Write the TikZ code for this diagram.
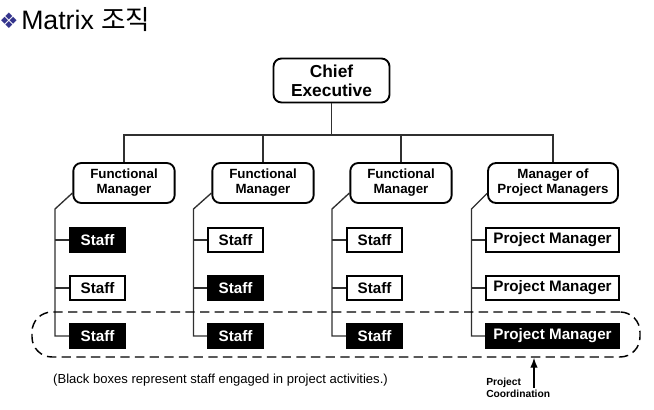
\documentclass[tikz,border=0pt]{standalone}
\usepackage{fontspec}
\setmainfont{Liberation Sans}
\newfontfamily\krfont{Noto Sans CJK KR}
\newfontfamily\symfont{DejaVu Sans}
\usetikzlibrary{arrows.meta,positioning}
\definecolor{bulletblue}{HTML}{34348C}
\definecolor{wiregray}{HTML}{303030}

\begin{document}
\begin{tikzpicture}[
  x=0.75pt, y=-0.75pt,
  >=Latex,
  chief/.style={rectangle, draw, line width=1.4pt, rounded corners=6pt, minimum width=87pt, minimum height=33pt, inner sep=0pt, align=center, font=\fontsize{13}{14.5}\selectfont\bfseries},
  fmgr/.style={chief, minimum width=76pt, minimum height=30pt, font=\fontsize{10}{11.3}\selectfont\bfseries},
  staffbox/.style={rectangle, draw, line width=1.4pt, minimum width=41pt, minimum height=18.5pt, inner sep=0pt, font=\fontsize{11.4}{12}\selectfont\bfseries},
  busy/.style={staffbox, fill=black, text=white},
  pmbox/.style={minimum width=100pt},
  wire/.style={draw=wiregray, line width=1pt},
  band/.style={draw, dashed, dash pattern=on 7pt off 4pt, line width=1.1pt, rounded corners=15pt, minimum width=456pt, minimum height=33.75pt}
]
  \useasboundingbox (0,0) rectangle (654,410);

  % title
  \node[text=bulletblue, font=\symfont\fontsize{16}{16}\selectfont, inner sep=0pt] (bullet) at (9,21) {❖};
  \node[anchor=west, inner sep=0pt, font=\fontsize{20}{20}\selectfont] (title) at (21,20) {Matrix {\krfont 조직}};

  % top of the chart
  \node[chief] (ce) at (331.5,80.5) {Chief\\Executive};
  \node[fmgr] (m1) at (124,183) {Functional\\Manager};
  \node[fmgr] (m2) at (263,183) {Functional\\Manager};
  \node[fmgr] (m3) at (401,183) {Functional\\Manager};
  \node[fmgr, minimum width=97.5pt] (m4) at (553,183) {Manager of\\Project Managers};

  \coordinate (bus) at (331.5,135);
  \draw[wire] (ce) -- (bus);
  \draw[wire] (m1.north) |- (bus) -| (m4.north);
  \draw[wire] (m2.north) -- (m2.north |- bus);
  \draw[wire] (m3.north) -- (m3.north |- bus);

  % staff columns
  \node[busy] (s11) at (97.5,240) {Staff};
  \node[staffbox, below=16.1pt of s11] (s12) {Staff};
  \node[busy, below=16.1pt of s12] (s13) {Staff};

  \node[staffbox] (s21) at (235.5,240) {Staff};
  \node[busy, below=16.1pt of s21] (s22) {Staff};
  \node[busy, below=16.1pt of s22] (s23) {Staff};

  \node[staffbox] (s31) at (374.5,240) {Staff};
  \node[staffbox, below=16.1pt of s31] (s32) {Staff};
  \node[busy, below=16.1pt of s32] (s33) {Staff};

  \node[staffbox, pmbox] (s41) at (552.5,240) {Project Manager};
  \node[staffbox, pmbox, below=16.1pt of s41] (s42) {Project Manager};
  \node[busy, pmbox, below=16.1pt of s42] (s43) {Project Manager};

  \coordinate (k1) at (55,209);
  \coordinate (k2) at (193.5,209);
  \coordinate (k3) at (332,209);
  \coordinate (k4) at (471.5,209);

  \draw[wire] (m1.191) -- (k1) |- (s13.west);
  \draw[wire] (k1 |- s11.west) -- (s11.west);
  \draw[wire] (k1 |- s12.west) -- (s12.west);

  \draw[wire] (m2.191) -- (k2) |- (s23.west);
  \draw[wire] (k2 |- s21.west) -- (s21.west);
  \draw[wire] (k2 |- s22.west) -- (s22.west);

  \draw[wire] (m3.191) -- (k3) |- (s33.west);
  \draw[wire] (k3 |- s31.west) -- (s31.west);
  \draw[wire] (k3 |- s32.west) -- (s32.west);

  \draw[wire] (m4.189) -- (k4) |- (s43.west);
  \draw[wire] (k4 |- s41.west) -- (s41.west);
  \draw[wire] (k4 |- s42.west) -- (s42.west);

  % project band and notes
  \node[band] (coord) at (336,334.5) {};
  \node[font=\fontsize{9.8}{11}\selectfont] (note) at (220.5,380) {(Black boxes represent staff engaged in project activities.)};
  \node[anchor=west, inner sep=0pt, align=left, font=\fontsize{7.7}{9}\selectfont\bfseries] (pc) at (486,388) {Project\\Coordination};
  \coordinate (foot) at (534,388);
  \draw[->, line width=1pt] (foot) -- (foot |- coord.south);
\end{tikzpicture}
\end{document}
